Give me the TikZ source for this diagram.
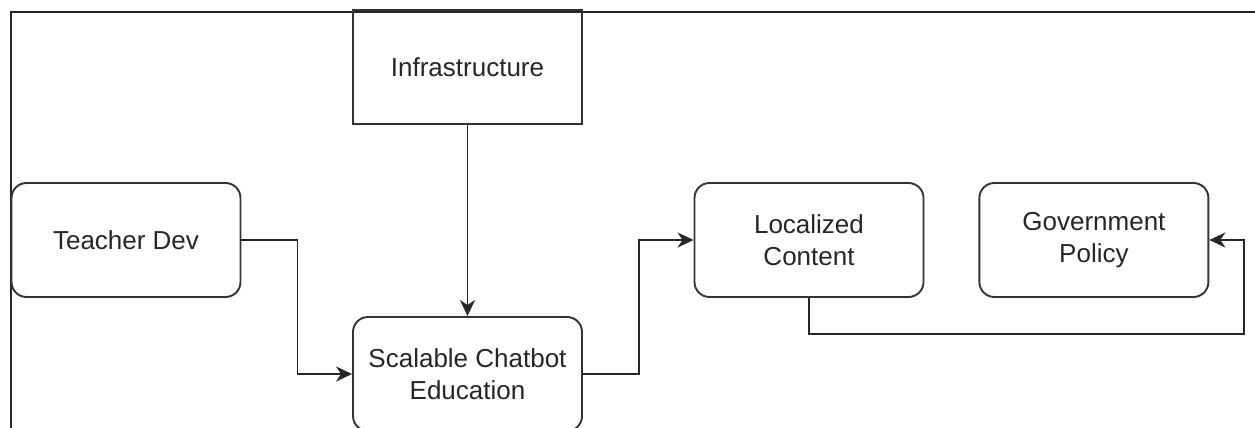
\documentclass[tikz,border=0pt]{standalone}
\usepackage{fontspec}
\setmainfont{Liberation Sans}
\usepackage{tikz}
\usetikzlibrary{positioning}
\usetikzlibrary{arrows.meta}
\tikzset{
node distance = 191pt and 54pt,
   box/.style = {%
    shape=rectangle,
    rounded corners=15pt,
    draw=black!80,
    line width=1.9pt,
    minimum width=229pt,
    minimum height=114pt,
    inner sep=0pt,
    align=center,
    text=black!85,
    font=\fontsize{26}{32}\selectfont},
 flatbox/.style = {box, sharp corners},
 arrow/.style = {%
    draw=black!85,
    line width=1.9pt,% <-- same as the boxes
    -{Stealth[length=16pt, width=15pt, inset=5pt]}},
 frame/.style = {draw=black!85, line width=1.9pt},
    }

\begin{document}
\begin{tikzpicture}[x=1pt, y=-1pt]
    \useasboundingbox (0,0) rectangle (1255,428);
    \draw[frame] (11,440) |- (1270,12);

    \node[box] (teacher) at (126,240) {Teacher Dev};
    \node[box] (chatbot) at (467.5,374) {Scalable Chatbot\\Education};
    \node[flatbox, above=of chatbot] (infra) {Infrastructure};
    \node[box] (localized) at (809,240) {Localized\\Content};
    \node[box, right=of localized] (policy) {Government\\Policy};
    \coordinate (loop) at (1244,334);

    \draw[arrow] (teacher.east) -- ++(56,0) |- (chatbot.west);
    \draw[arrow] (infra) -- (chatbot);
    \draw[arrow] (chatbot.east) -- ++(56,0) |- (localized.west);
    \draw[arrow] (localized.south) |- (loop) |- (policy.east);
\end{tikzpicture}
\end{document}
